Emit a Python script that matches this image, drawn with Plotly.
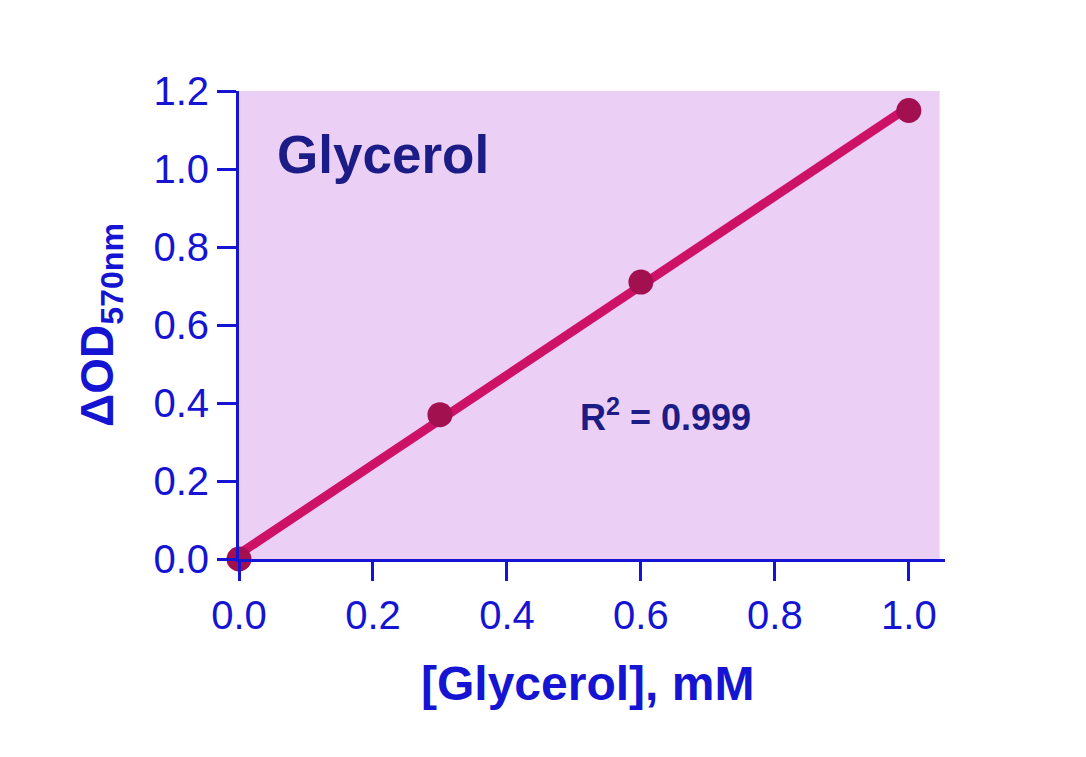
import numpy as np
import plotly.graph_objects as go

conc = [0.0, 0.3, 0.6, 1.0]
od = [0.0, 0.37, 0.71, 1.15]
tick_vals = [0.0, 0.2, 0.4, 0.6, 0.8, 1.0, 1.2]
x_tick_vals = [0.0, 0.2, 0.4, 0.6, 0.8, 1.0]

slope, intercept = np.polyfit(conc, od, 1)
fit_x = [0.0, 1.0]
fit_y = [intercept + slope * v for v in fit_x]

BLUE = "#1414D2"
NAVY = "#1C1C86"
FONT = "Liberation Sans, Arial, sans-serif"

fig = go.Figure()
fig.add_trace(go.Scatter(x=fit_x, y=fit_y, mode="lines",
                         line=dict(color="#CC1166", width=9),
                         cliponaxis=False, hoverinfo="skip"))
fig.add_trace(go.Scatter(x=conc, y=od, mode="markers",
                         marker=dict(color="#A3104F", size=25),
                         cliponaxis=False))

axis_common = dict(showline=True, linecolor=BLUE, linewidth=3,
                   ticks="outside", ticklen=19, tickwidth=3, tickcolor=BLUE,
                   tickfont=dict(family=FONT, size=40, color=BLUE),
                   tickformat=".1f", showgrid=False, zeroline=False)

fig.update_layout(
    width=1086, height=757,
    margin=dict(l=239, r=141, t=91, b=198),
    paper_bgcolor="white", plot_bgcolor="white",
    showlegend=False,
    xaxis=dict(range=[0, 1.054], tickvals=x_tick_vals, **axis_common),
    yaxis=dict(range=[0, 1.2], tickvals=tick_vals, **axis_common),
    shapes=[dict(type="rect", xref="x", yref="y", x0=0, x1=1.046, y0=0, y1=1.2,
                 fillcolor="#ECCFF5", line=dict(width=0), layer="below")],
    annotations=[
        dict(text="<b>Glycerol</b>", x=0.054, y=1.036, xref="x", yref="y",
             xanchor="left", yanchor="middle", showarrow=False,
             font=dict(family=FONT, size=53, color=NAVY)),
        dict(text="<b>R<sup>2</sup> = 0.999</b>", x=0.506, y=0.369, xref="x", yref="y",
             xanchor="left", yanchor="middle", showarrow=False,
             font=dict(family=FONT, size=36, color=NAVY)),
        dict(text="<b>[Glycerol], mM</b>", x=0.494, y=-0.265, xref="paper", yref="paper",
             xanchor="center", yanchor="middle", showarrow=False,
             font=dict(family=FONT, size=48, color=BLUE)),
        dict(text="<b>ΔOD<sub>570nm</sub></b>", x=-0.197, y=0.5, xref="paper", yref="paper",
             xanchor="center", yanchor="middle", showarrow=False, textangle=-90,
             font=dict(family=FONT, size=46, color=BLUE)),
    ],
)

fig.write_html("out.html")
